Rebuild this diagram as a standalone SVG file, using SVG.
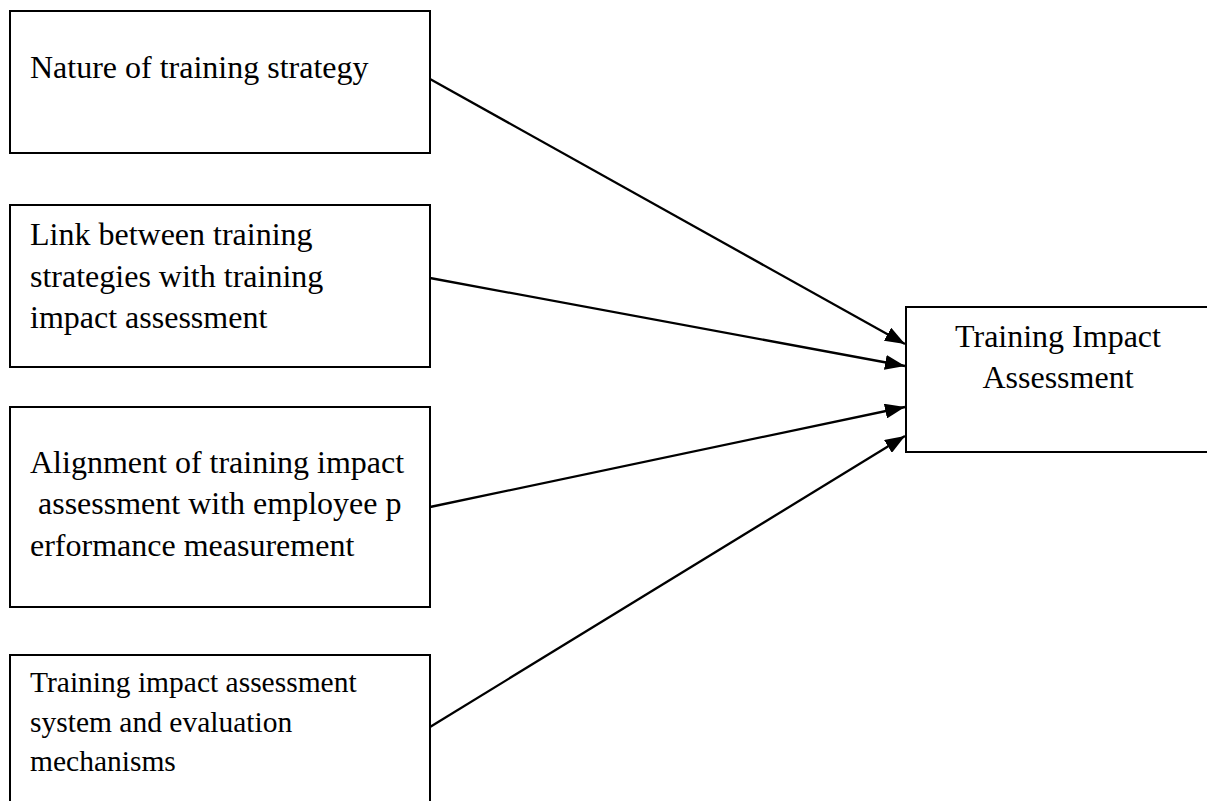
<svg xmlns="http://www.w3.org/2000/svg" width="1207" height="801" viewBox="0 0 1207 801">
  <style>
    .box { fill: #ffffff; stroke: #000000; stroke-width: 2; }
    .lbl { font-family: "Liberation Serif", "Times New Roman", serif; font-size: 32px; fill: #000000; }
    .small { font-size: 29.5px; }
    .mid { text-anchor: middle; }
    .edge { stroke: #000000; stroke-width: 2.3; fill: none; marker-end: url(#arrow); }
  </style>
  <defs>
    <!-- filled triangular arrowhead, tip lands on the box edge -->
    <marker id="arrow" viewBox="0 0 20 15" refX="20" refY="7.5" markerWidth="20" markerHeight="15" markerUnits="userSpaceOnUse" orient="auto">
      <path d="M0,0 L20,7.5 L0,15 Z" fill="#000000"/>
    </marker>
  </defs>
  <rect width="1207" height="801" fill="#ffffff"/>

  <g id="node-nature">
    <rect class="box" x="10" y="11" width="420" height="142"/>
    <text class="lbl" x="30" y="78">Nature of training strategy</text>
  </g>

  <g id="node-link">
    <rect class="box" x="10" y="205" width="420" height="162"/>
    <text class="lbl" x="30" y="245">Link between training</text>
    <text class="lbl" x="30" y="287">strategies with training</text>
    <text class="lbl" x="30" y="328">impact assessment</text>
  </g>

  <g id="node-alignment">
    <rect class="box" x="10" y="407" width="420" height="200"/>
    <text class="lbl" x="30" y="473">Alignment of training impact</text>
    <text class="lbl" x="38" y="514">assessment with employee p</text>
    <text class="lbl" x="30" y="556">erformance measurement</text>
  </g>

  <g id="node-system">
    <rect class="box" x="10" y="655" width="420" height="170"/>
    <text class="lbl small" x="30" y="692">Training impact assessment</text>
    <text class="lbl small" x="30" y="732">system and evaluation</text>
    <text class="lbl small" x="30" y="771">mechanisms</text>
  </g>

  <g id="node-target">
    <rect class="box" x="906" y="307" width="320" height="145"/>
    <text class="lbl mid" x="1058" y="347">Training Impact</text>
    <text class="lbl mid" x="1058" y="388">Assessment</text>
  </g>

  <g id="connectors">
    <line class="edge" x1="430" y1="79" x2="905" y2="344"/>
    <line class="edge" x1="430" y1="278" x2="905" y2="366"/>
    <line class="edge" x1="430" y1="507" x2="905" y2="407"/>
    <line class="edge" x1="430" y1="727" x2="905" y2="436"/>
  </g>
</svg>
